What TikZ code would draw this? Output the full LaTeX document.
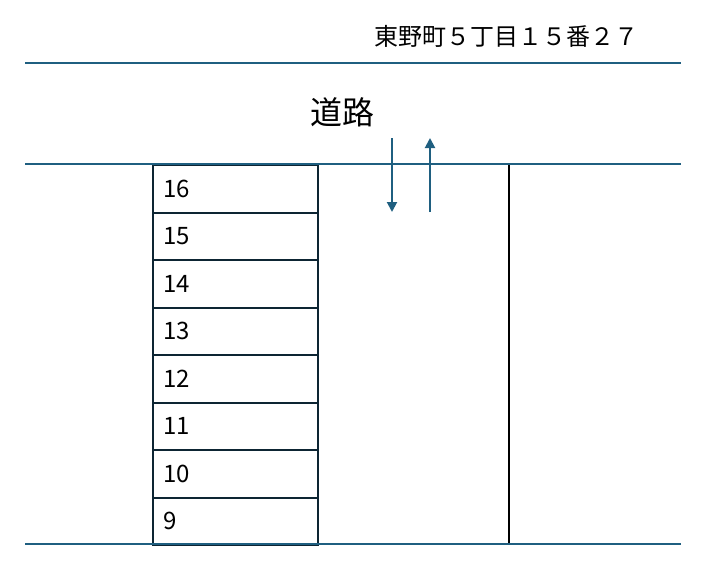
\documentclass[tikz,border=0pt]{standalone}
\usepackage{fontspec}
\setmainfont{Noto Sans CJK JP}
\usetikzlibrary{arrows.meta}
\definecolor{roadblue}{HTML}{1F5F80}
\definecolor{lotnavy}{HTML}{0D2533}
\begin{document}
\begin{tikzpicture}[x=1pt,y=-1pt,
    road/.style ={draw=roadblue, line width=2pt},
    lot/.style ={draw=lotnavy, line width=2pt, anchor=north west, inner xsep=10pt, inner ysep=0pt,
      minimum width=165pt, minimum height=47.5pt, text width=145pt, align=left, font=\fontsize{24}{24}\selectfont},
    flow/.style ={draw=roadblue, line width=2pt, -{Triangle[length=10pt,width=10pt]}}]
   \useasboundingbox (0,0) rectangle (709,574);
   \node (addr) at (506,36) {\fontsize{24}{24}\selectfont 東野町５丁目１５番２７};
   \node (name) at (342,112) {\fontsize{32}{32}\selectfont 道路};
   \foreach \n [count=\i from 0] in {16,15,14,13,12,11,10,9}
     \node[lot] (lot\n) at (152,164+47.5*\i) {\n};
   \coordinate (EdgeT) at (509,164);
   \coordinate (EdgeB) at (509,544);
   \draw[black, line width=2pt] (EdgeT) -- (EdgeB);
   \coordinate (RoadTopL) at (25,63);
   \coordinate (RoadTopR) at (681,63);
   \coordinate (RoadBotL) at (25,164);
   \coordinate (RoadBotR) at (681,164);
   \coordinate (BaseL) at (25,544);
   \coordinate (BaseR) at (681,544);
   \draw[road] (RoadTopL) -- (RoadTopR);
   \draw[road] (RoadBotL) -- (RoadBotR);
   \draw[road] (BaseL) -- (BaseR);
   \coordinate (InA) at (392,138);
   \coordinate (InB) at (392,212);
   \coordinate (OutA) at (430,212);
   \coordinate (OutB) at (430,138);
   \draw[flow] (InA) -- (InB);
   \draw[flow] (OutA) -- (OutB);
\end{tikzpicture}
\end{document}
